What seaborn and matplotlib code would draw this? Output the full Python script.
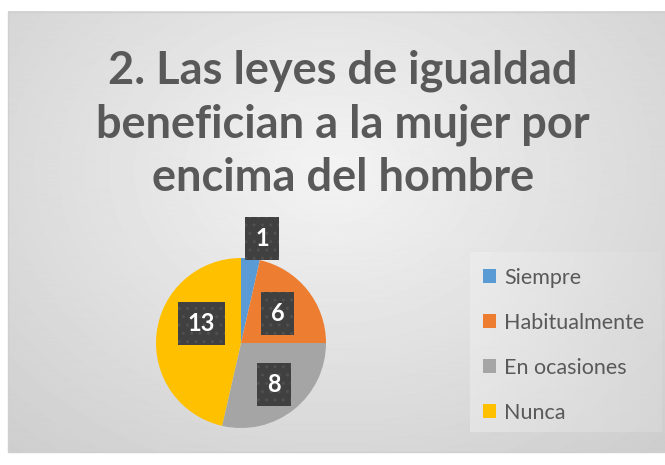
import numpy as np
import seaborn as sns
import matplotlib.pyplot as plt
from matplotlib.patches import Rectangle

categories = ["Siempre", "Habitualmente", "En ocasiones", "Nunca"]
counts = [1, 6, 8, 13]
colors = ["#5B9BD5", "#ED7D31", "#A5A5A5", "#FFC000"]
title = "2. Las leyes de igualdad\nbenefician a la mujer por\nencima del hombre"

# label placement tweaks (radius, angle shift in degrees)
label_r = [1.25, 0.55, 0.62, 0.52]
label_shift = [-5, 0, 0, -20]

sns.set_theme(style="white")
plt.rcParams["font.family"] = ["Lato", "DejaVu Sans"]
plt.rcParams["hatch.linewidth"] = 1.0

W, H = 665, 465
fig = plt.figure(figsize=(W / 100, H / 100), dpi=100)
fig.patch.set_facecolor("white")

# gradient chart area
bg = fig.add_axes([0, 0, 1, 1])
bg.set_xlim(0, W)
bg.set_ylim(H, 0)
bg.axis("off")
yy, xx = np.mgrid[12:452, 8:665]
d = np.sqrt(((xx - 330) / 420.0) ** 2 + ((yy - 170) / 330.0) ** 2)
shade = np.clip(0.955 - 0.13 * d, 0.80, 0.96)
bg.imshow(shade, cmap="gray", vmin=0, vmax=1, extent=(8, 665, 452, 12), aspect="auto")
bg.add_patch(Rectangle((8, 12), 660, 440, fill=False, ec="#d0d0d0", lw=1))

# legend panel
lx = np.linspace(0, 1, 200)[None, :]
bg.imshow(np.clip(0.95 - 0.08 * lx, 0, 1), cmap="gray", vmin=0, vmax=1,
          extent=(470, 662, 432, 253), aspect="auto", alpha=0.45)

bg.text(343, 124, title, ha="center", va="center", fontsize=32.5, fontweight="bold",
        color="#595959", linespacing=1.33)

ax = fig.add_axes([(241 - 85) / W, (465 - 428) / H, 170 / W, 170 / H])
wedges, _ = ax.pie(counts, colors=colors, startangle=90, counterclock=False,
                   radius=1, wedgeprops=dict(linewidth=0))
ax.set_xlim(-1, 1)
ax.set_ylim(-1, 1)
ax.set_aspect("auto")

for w, v, r, s in zip(wedges, counts, label_r, label_shift):
    ang = np.deg2rad((w.theta1 + w.theta2) / 2 + s)
    ax.text(r * np.cos(ang), r * np.sin(ang), str(v), ha="center", va="center",
            fontsize=17, fontweight="bold", color="white", clip_on=False,
            bbox=dict(boxstyle="square,pad=0.42", fc="#404040", ec="#505050",
                      lw=0, hatch=".."))

leg = fig.legend(wedges, categories, loc="upper left", bbox_to_anchor=(483 / W, 1 - 268 / H),
                 frameon=False, fontsize=15.5, labelcolor="#595959",
                 handlelength=0.62, handleheight=0.62, handletextpad=0.35,
                 labelspacing=1.16, borderpad=0, borderaxespad=0)

fig.savefig("out.png", dpi=100)
